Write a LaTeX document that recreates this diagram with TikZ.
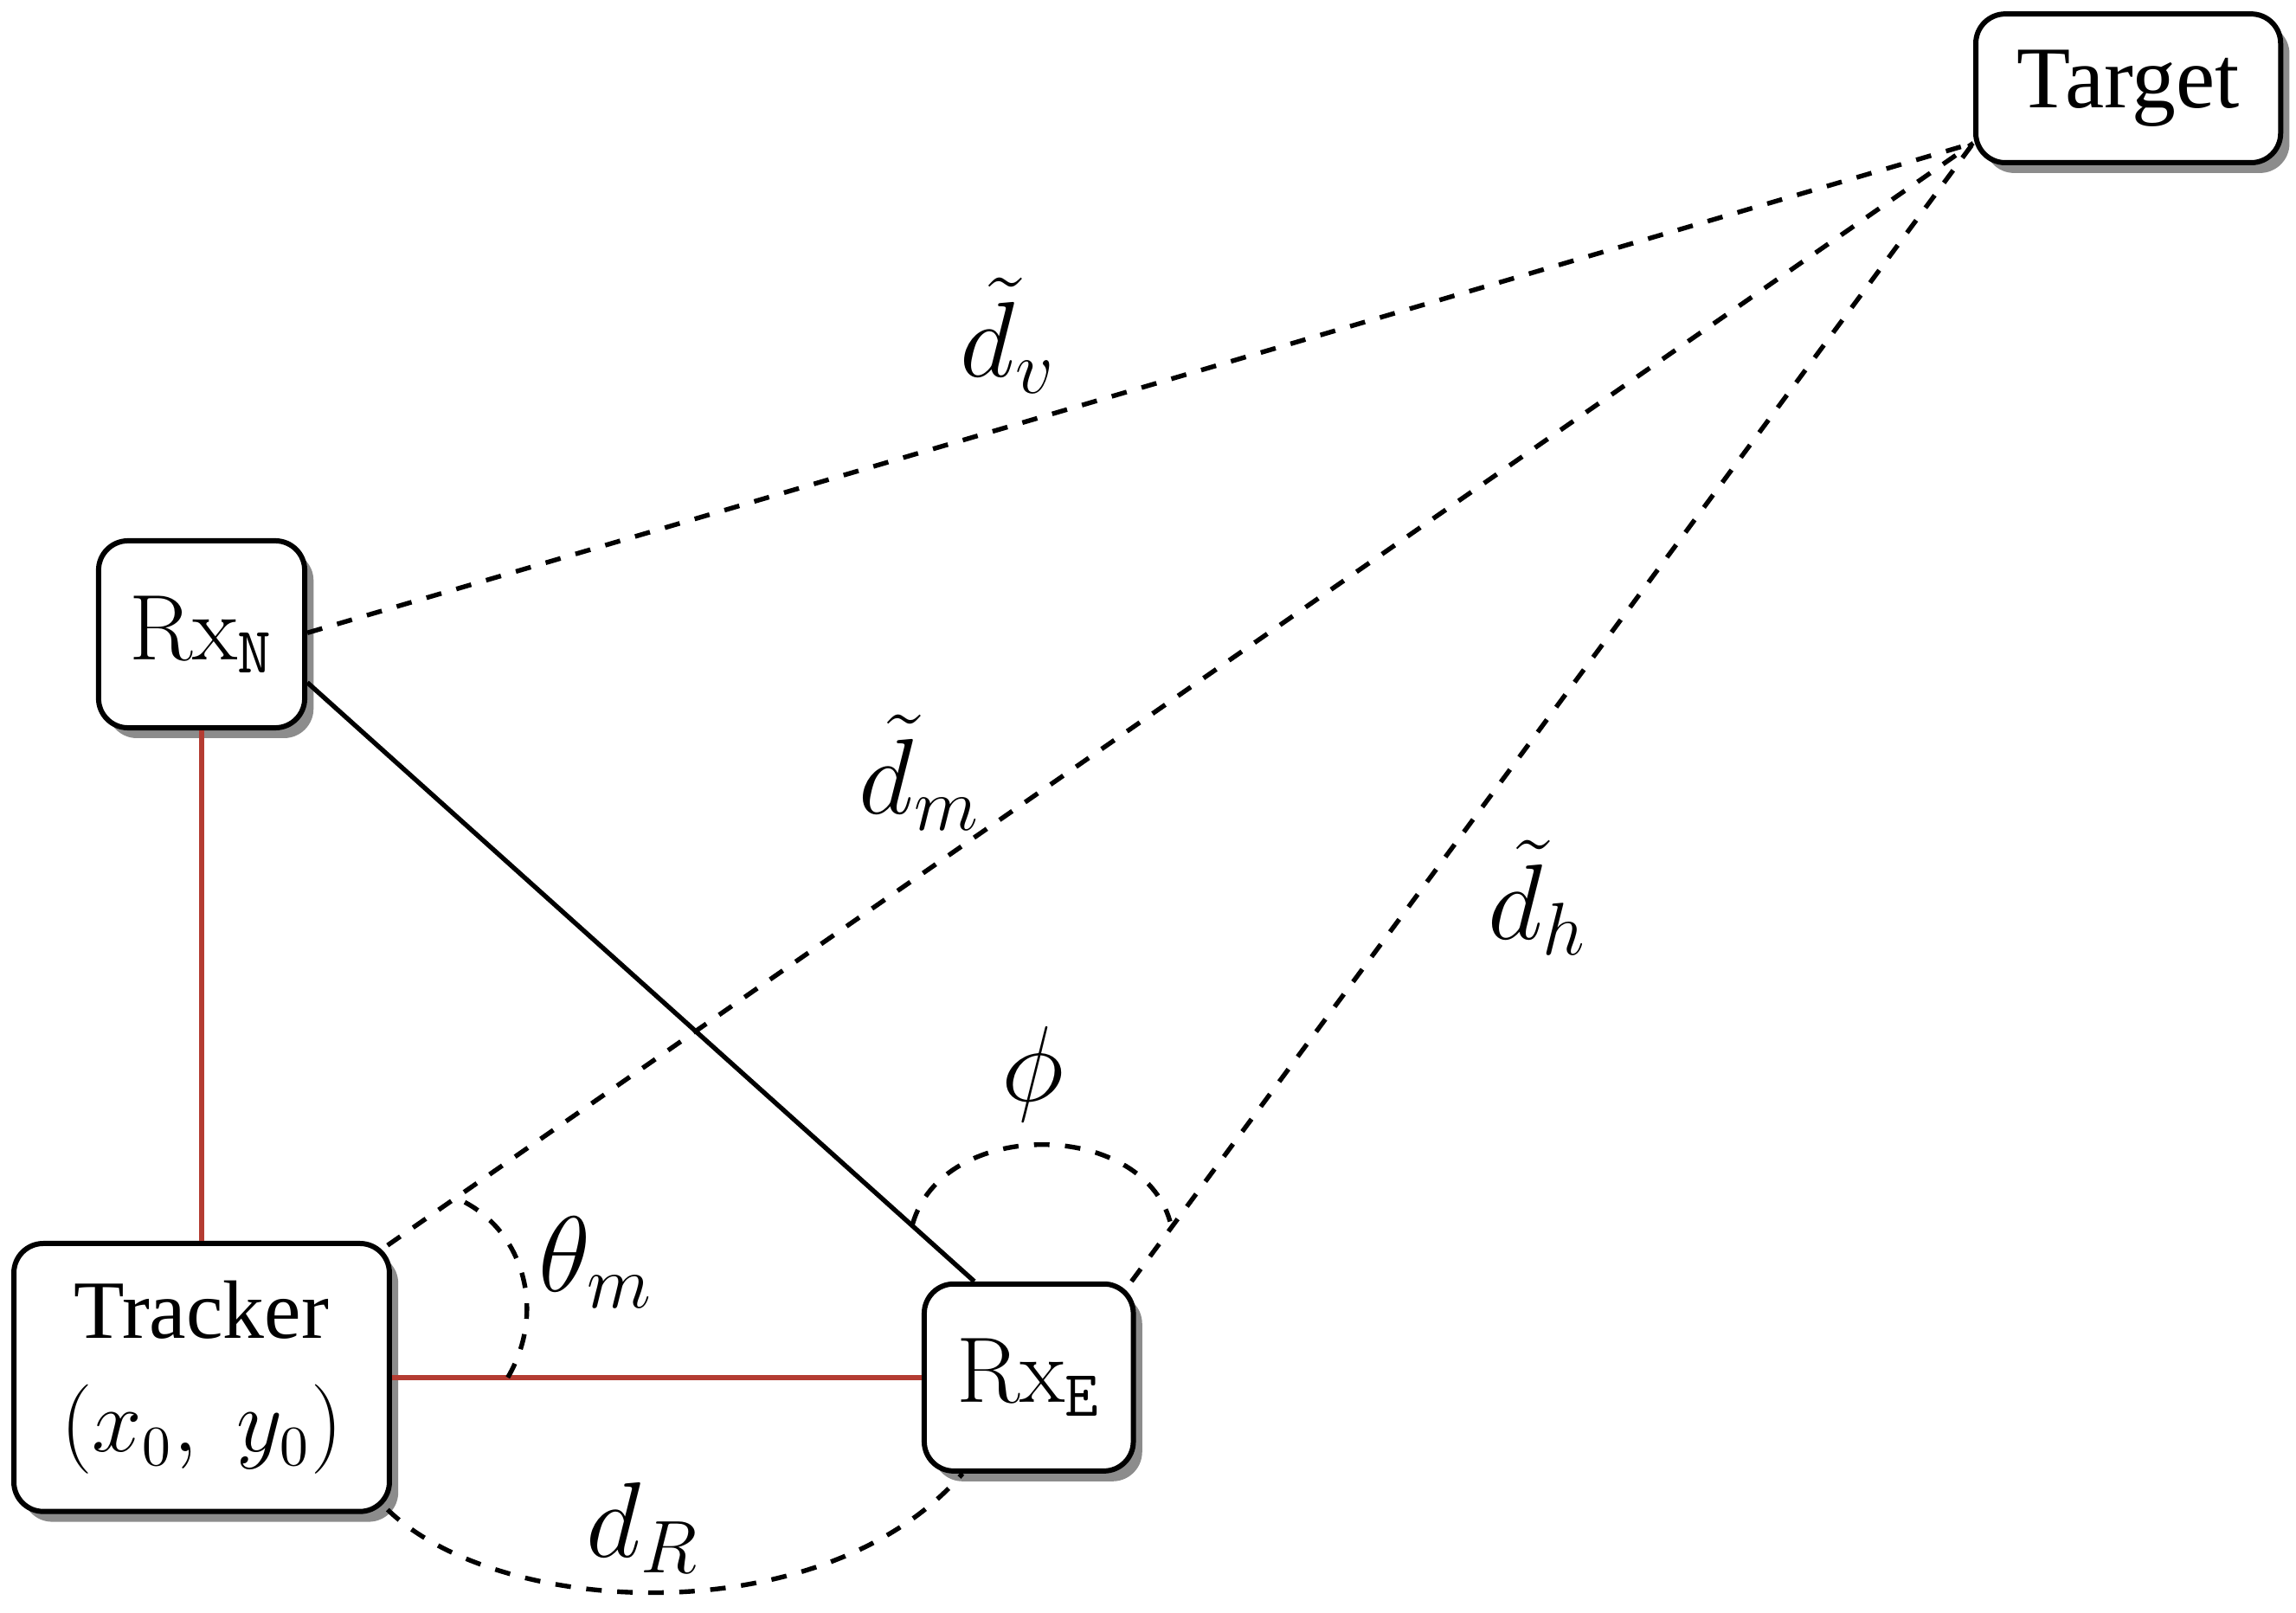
\documentclass[tikz,border=0pt]{standalone}
\usepackage{fontspec}
\setmainfont{Liberation Serif}
\newfontfamily\lmr{Latin Modern Roman}
\usetikzlibrary{shadows}
\begin{document}
\begin{tikzpicture}[x=0.01cm,y=-0.01cm,
 box/.style={draw,fill=white,rounded corners=0.2cm,line width=1pt,drop shadow={shadow xshift=0.06cm,shadow yshift=-0.07cm,fill=black!45,opacity=1},inner sep=0pt},
 dsh/.style={dashed,line width=0.9pt},
 red/.style={draw={rgb,255:red,180;green,60;blue,50},line width=0.9pt},
 lab/.style={font=\fontsize{22}{26}\selectfont}]
\useasboundingbox (0,0) rectangle (1560,1096);
\node[box,minimum width=2.07cm,minimum height=1.01cm,font=\fontsize{17}{20}\selectfont] (T) at (1446,60) {Target};
\node[box,minimum width=1.40cm,minimum height=1.27cm,font=\fontsize{18}{20}\selectfont] (N) at (137,431) {{\lmr Rx}$_{\mathtt{N}}$};
\node[box,minimum width=2.55cm,minimum height=1.82cm,font=\fontsize{16}{22}\selectfont,align=center] (K) at (137,936) {Tracker\\$(x_0,\;y_0)$};
\node[box,minimum width=1.42cm,minimum height=1.27cm,font=\fontsize{18}{20}\selectfont] (E) at (699,936) {{\lmr Rx}$_{\mathtt{E}}$};
\draw[red] (N) -- (K);
\draw[red] (K) -- (E);
\draw[line width=0.9pt] ([yshift=-0.98cm]N.north east) -- ([xshift=-0.37cm]E.north);
\draw[dsh] ([yshift=0.01cm]N.east) -- ([yshift=0.15cm]T.south west);
\draw[dsh] ([xshift=-0.03cm,yshift=-0.03cm]K.north east) -- ([yshift=0.15cm]T.south west);
\draw[dsh] ([xshift=-0.03cm]E.north east) -- ([yshift=0.15cm]T.south west);
\coordinate (a1) at (345,936); \coordinate (a2) at (312,815);
\draw[dsh] (a1) .. controls (372,890) and (355,835) .. (a2);
\coordinate (p1) at (620,832); \coordinate (p2) at (795,830);
\draw[dsh] (p1) .. controls (640,760) and (775,760) .. (p2);
\draw[dsh] ([xshift=-0.03cm,yshift=0.03cm]K.south east) .. controls (340,1100) and (560,1110) .. ([xshift=-0.45cm]E.south);
\node[lab] at (685,228) {$\tilde d_v$};
\node[lab] at (625,525) {$\tilde d_m$};
\node[lab] at (1045,610) {$\tilde d_h$};
\node[lab] at (702,730) {$\phi$};
\node[lab] at (405,858) {$\theta_m$};
\node[lab] at (437,1038) {$d_R$};
\end{tikzpicture}
\end{document}
